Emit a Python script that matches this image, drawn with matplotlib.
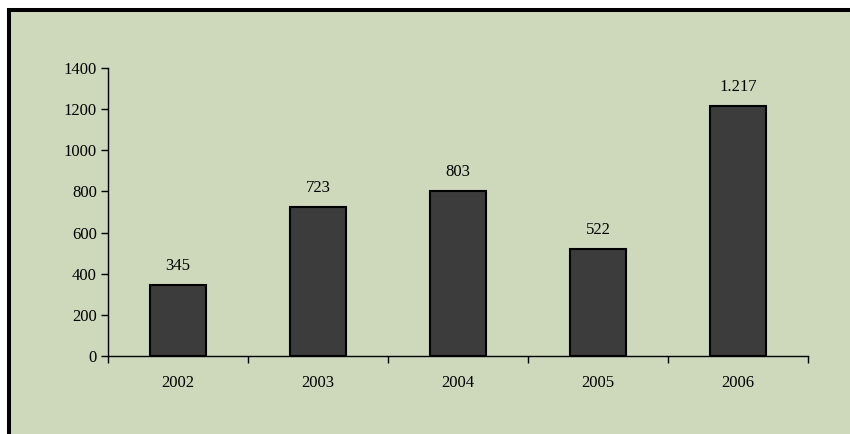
import matplotlib
matplotlib.use("Agg")
import matplotlib.pyplot as plt
from matplotlib.patches import Rectangle

years = ["2002", "2003", "2004", "2005", "2006"]
values = [345, 723, 803, 522, 1217]
labels = ["345", "723", "803", "522", "1.217"]
yticks = [0, 200, 400, 600, 800, 1000, 1200, 1400]

plt.rcParams['font.family'] = ['Liberation Serif', 'DejaVu Serif']

W, H, DPI = 850, 434, 100
fig = plt.figure(figsize=(W / DPI, H / DPI), dpi=DPI)
fig.patch.set_facecolor('white')

bg = '#CDD9BA'
frame = Rectangle((9 / W, -0.1), 1.2, 1 - 10 / H + 0.1, transform=fig.transFigure,
                  facecolor=bg, edgecolor='black', linewidth=2.9, zorder=-10)
fig.patches.append(frame)

ax = fig.add_axes([108 / W, 1 - 356 / H, 700 / W, (356 - 68) / H])
ax.set_zorder(5)
ax.set_facecolor('none')
x = list(range(len(years)))
bars = ax.bar(x, values, width=0.4, color='#3c3c3c', edgecolor='black', linewidth=1.5, zorder=3)
for xi, v, lab in zip(x, values, labels):
    ax.annotate(lab, (xi, v), xytext=(0, 8), textcoords='offset points',
                ha='center', va='bottom', fontsize=12, color='black')

ax.set_xlim(-0.5, 4.5)
ax.set_ylim(0, 1400)
ax.set_yticks(yticks)
ax.set_yticklabels([str(t) for t in yticks], fontsize=12)
ax.set_xticks(x)
ax.set_xticklabels(years, fontsize=12)
ax.set_xticks([i - 0.5 for i in range(len(years) + 1)], minor=True)
ax.tick_params(axis='x', which='major', length=0, pad=14)
ax.tick_params(axis='x', which='minor', length=5, direction='out', width=1, color='black')
ax.tick_params(axis='y', which='major', length=5, direction='out', width=1, pad=3, color='black')
for s in ['top', 'right']:
    ax.spines[s].set_visible(False)
for s in ['left', 'bottom']:
    ax.spines[s].set_color('black')
    ax.spines[s].set_linewidth(1)

fig.savefig('out.png', dpi=DPI)
